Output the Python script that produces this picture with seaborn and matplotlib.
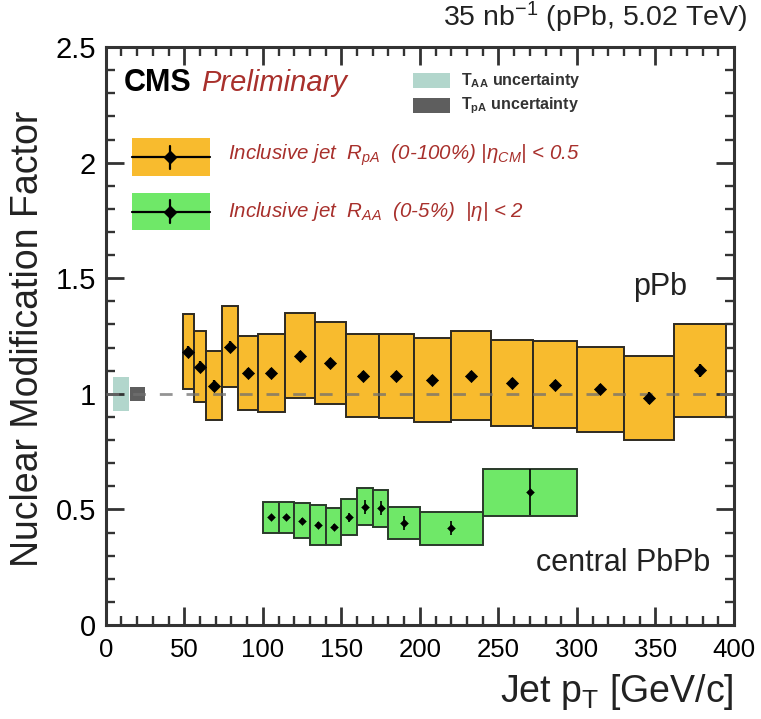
import numpy as np
import pandas as pd
import matplotlib
matplotlib.use("Agg")
import matplotlib.pyplot as plt
from matplotlib.patches import Rectangle
from matplotlib.ticker import MultipleLocator, FixedLocator
import seaborn as sns

# ---------------- data ----------------
ppb_lo = [49, 56, 64, 74, 84, 97, 114, 133, 153, 174, 196, 220, 245, 272, 300, 330, 362]
ppb_hi = [56, 64, 74, 84, 97, 114, 133, 153, 174, 196, 220, 245, 272, 300, 330, 362, 395]
ppb_val = [1.183, 1.118, 1.036, 1.204, 1.090, 1.090, 1.165, 1.133, 1.078, 1.078,
           1.060, 1.078, 1.046, 1.039, 1.020, 0.981, 1.101]
ppb_sys = [0.162, 0.154, 0.148, 0.176, 0.162, 0.170, 0.183, 0.179, 0.180, 0.182,
           0.183, 0.192, 0.186, 0.188, 0.184, 0.181, 0.200]
ppb_stat = [0.025, 0.025, 0.025, 0.025, 0.022, 0.022, 0.022, 0.022, 0.022, 0.022,
            0.022, 0.022, 0.022, 0.022, 0.022, 0.025, 0.028]

pbpb_lo = [100, 110, 120, 130, 140, 150, 160, 170, 180, 200, 240]
pbpb_hi = [110, 120, 130, 140, 150, 160, 170, 180, 200, 240, 300]
pbpb_val = [0.466, 0.466, 0.452, 0.433, 0.426, 0.466, 0.512, 0.505, 0.440, 0.418, 0.574]
pbpb_sys = [0.066, 0.066, 0.076, 0.088, 0.080, 0.078, 0.080, 0.079, 0.069, 0.071, 0.101]
pbpb_stat = [0.010, 0.010, 0.012, 0.012, 0.012, 0.020, 0.030, 0.030, 0.030, 0.030, 0.100]

taa_range = [4.5, 14.5]
taa_unc = 0.073
tpa_range = [15.5, 25.0]
tpa_unc = 0.030

x_ticks = [0, 50, 100, 150, 200, 250, 300, 350, 400]
y_ticks = [0, 0.5, 1, 1.5, 2, 2.5]
y_tick_labels = ["0", "0.5", "1", "1.5", "2", "2.5"]

ppb = pd.DataFrame({"lo": ppb_lo, "hi": ppb_hi, "val": ppb_val, "sys": ppb_sys, "stat": ppb_stat})
ppb["x"] = (ppb.lo + ppb.hi) / 2
ppb["w"] = ppb.hi - ppb.lo
pbpb = pd.DataFrame({"lo": pbpb_lo, "hi": pbpb_hi, "val": pbpb_val, "sys": pbpb_sys, "stat": pbpb_stat})
pbpb["x"] = (pbpb.lo + pbpb.hi) / 2
pbpb["w"] = pbpb.hi - pbpb.lo

# ---------------- style ----------------
sns.set_theme(style="ticks")
AX = "#333333"
plt.rcParams.update({
    "font.family": ["Liberation Sans", "DejaVu Sans"],
    "mathtext.fontset": "custom",
    "mathtext.rm": "Liberation Sans",
    "mathtext.it": "Liberation Sans:italic",
})

ORANGE = "#f8bb2e"
GREEN = "#6fe868"
TEAL = "#b2d6cc"
DARK = "#5e5e5e"
RED = "#a8302c"

fig = plt.figure(figsize=(7.61, 7.19), dpi=100)
ax = fig.add_axes([0.139, 0.1307, 0.8255, 0.8039])

# systematic boxes
ax.bar(ppb.x, 2 * ppb.sys, width=ppb.w, bottom=ppb.val - ppb.sys, color=ORANGE,
       edgecolor="#2e2a20", linewidth=1.4, zorder=2)
ax.bar(pbpb.x, 2 * pbpb.sys, width=pbpb.w, bottom=pbpb.val - pbpb.sys, color=GREEN,
       edgecolor="#2a3a2a", linewidth=1.4, zorder=2)

# normalisation uncertainties
ax.bar([np.mean(taa_range)], [2 * taa_unc], width=taa_range[1] - taa_range[0],
       bottom=1 - taa_unc, color=TEAL, linewidth=0, zorder=2)
ax.bar([np.mean(tpa_range)], [2 * tpa_unc], width=tpa_range[1] - tpa_range[0],
       bottom=1 - tpa_unc, color=DARK, linewidth=0, zorder=2)

# unity line
ax.axhline(1.0, color="#707070", lw=2.0, ls=(0, (4.6, 5.0)), alpha=0.75, zorder=3)

# statistical errors and points
ax.errorbar(ppb.x, ppb.val, yerr=ppb.stat, xerr=2.6, fmt="none", ecolor="black",
            elinewidth=1.6, capsize=0, zorder=4)
sns.scatterplot(data=ppb, x="x", y="val", marker="D", s=38, color="black",
                edgecolor="black", ax=ax, zorder=5, legend=False)
ax.errorbar(pbpb.x, pbpb.val, yerr=pbpb.stat, fmt="none", ecolor="black",
            elinewidth=1.2, capsize=0, zorder=4)
sns.scatterplot(data=pbpb, x="x", y="val", marker="D", s=16, color="black",
                edgecolor="black", ax=ax, zorder=5, legend=False)

# axes
ax.set_xlim(0, 400)
ax.set_ylim(0, 2.5)
ax.xaxis.set_major_locator(FixedLocator(x_ticks))
ax.yaxis.set_major_locator(FixedLocator(y_ticks))
ax.set_xticklabels([str(t) for t in x_ticks])
ax.set_yticklabels(y_tick_labels)
ax.xaxis.set_minor_locator(MultipleLocator(10))
ax.yaxis.set_minor_locator(MultipleLocator(0.1))
ax.tick_params(axis="both", which="both", direction="in", top=True, right=True, color=AX)
ax.tick_params(which="major", length=13, width=2.0)
ax.tick_params(which="minor", length=6.5, width=1.7)
ax.tick_params(axis="x", which="major", labelsize=18.5, pad=9, labelcolor="black")
ax.tick_params(axis="y", which="major", labelsize=21, pad=7, labelcolor="black")
ax.set_axisbelow(False)
for sp in ax.spines.values():
    sp.set_color(AX)
    sp.set_linewidth(2.2)

ax.set_xlabel(r"Jet p$_{\mathregular{T}}$ [GeV/c]", fontsize=27, loc="right", color="#222222")
ax.set_ylabel("Nuclear Modification Factor", fontsize=27, color="#222222")
ax.xaxis.set_label_coords(1.0, -0.082)
ax.yaxis.set_label_coords(-0.095, 0.495)

# annotations
ax.text(1.022, 1.02, r"35 nb$^{\mathregular{-1}}$ (pPb, 5.02 TeV)", transform=ax.transAxes,
        ha="right", va="bottom", fontsize=20.5, color="#222222")
ax.text(0.028, 0.938, "CMS", transform=ax.transAxes, fontsize=22, fontweight="bold",
        ha="left", va="center", color="black")
ax.text(0.152, 0.938, "Preliminary", transform=ax.transAxes, fontsize=21, style="italic",
        ha="left", va="center", color=RED)

# T_AA / T_pA legend
ax.add_patch(Rectangle((0.489, 0.929), 0.059, 0.026, transform=ax.transAxes,
                       color=TEAL, lw=0, zorder=6))
ax.add_patch(Rectangle((0.489, 0.886), 0.059, 0.026, transform=ax.transAxes,
                       color=DARK, lw=0, zorder=6))
ax.text(0.566, 0.942, r"T$_{\mathregular{AA}}$ uncertainty", transform=ax.transAxes,
        fontsize=11.5, fontweight="bold", ha="left", va="center", color="#333333")
ax.text(0.566, 0.899, r"T$_{\mathregular{pA}}$ uncertainty", transform=ax.transAxes,
        fontsize=11.5, fontweight="bold", ha="left", va="center", color="#333333")

# series legend
for (y0, y1, col) in [(0.776, 0.842, ORANGE), (0.683, 0.747, GREEN)]:
    ax.add_patch(Rectangle((0.041, y0), 0.125, y1 - y0, transform=ax.transAxes,
                           color=col, lw=0, zorder=6))
    ym = (y0 + y1) / 2
    ax.plot([0.041, 0.166], [ym, ym], transform=ax.transAxes, color="black", lw=1.6, zorder=7)
    ax.plot([0.103], [ym], transform=ax.transAxes, marker="D", ms=6, color="black", zorder=8)
    ax.plot([0.103, 0.103], [ym - 0.02, ym + 0.02], transform=ax.transAxes, color="black",
            lw=1.6, zorder=8)

ax.text(0.194, 0.812, r"Inclusive jet  R$_{\mathregular{pA}}$  (0-100%) |$\eta_{\mathregular{CM}}$| < 0.5",
        transform=ax.transAxes, fontsize=14.8, style="italic", ha="left", va="center", color=RED)
ax.text(0.194, 0.716, r"Inclusive jet  R$_{\mathregular{AA}}$  (0-5%)  |$\eta$| < 2",
        transform=ax.transAxes, fontsize=14.8, style="italic", ha="left", va="center", color=RED)

ax.text(0.925, 0.585, "pPb", transform=ax.transAxes, fontsize=22, ha="right", va="center",
        color="#222222")
ax.text(0.962, 0.107, "central PbPb", transform=ax.transAxes, fontsize=22, ha="right",
        va="center", color="#222222")

fig.savefig("out.png", dpi=100, facecolor="white")
